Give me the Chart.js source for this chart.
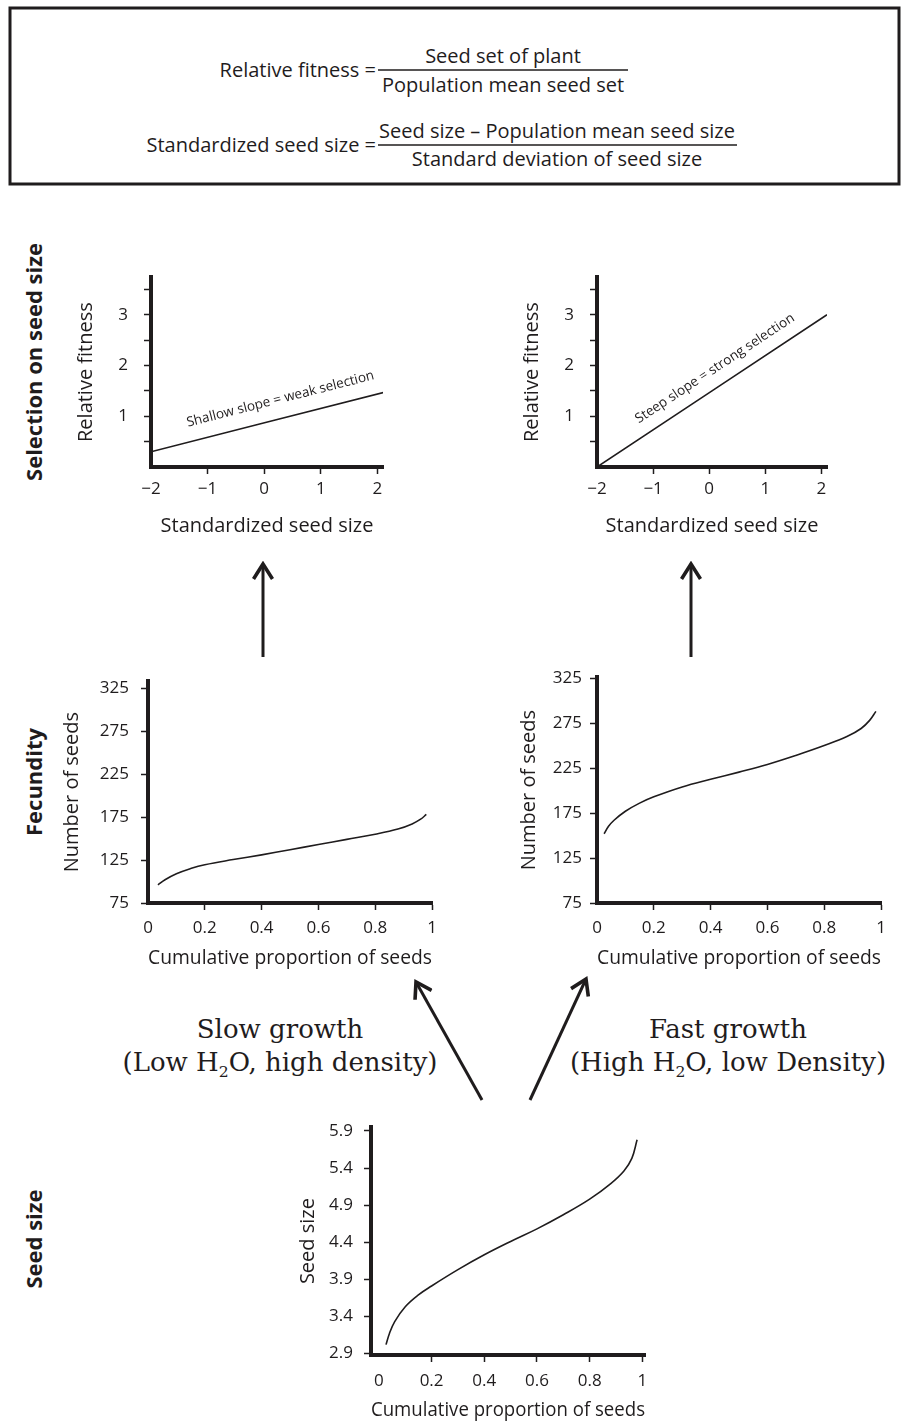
<!DOCTYPE html>
<html>
<head>
<meta charset="utf-8">
<title>Seed size, fecundity and selection</title>
<script src="https://cdn.jsdelivr.net/npm/chart.js@4.4.1/dist/chart.umd.min.js"></script>
<style>
  body { margin: 0; background: #fff; }
  #page { position: relative; width: 909px; height: 1424px; overflow: hidden;
          font-family: "Open Sans", sans-serif; color: #1f1c1d; }
  #page canvas, .txt { position: absolute; }
  .txt { white-space: nowrap; line-height: 1.2; }
  .mid { transform: translate(-50%, -50%); }
  .right { transform: translate(-100%, -50%); }
  .eq { font-size: 20px; }
  .row { font-weight: 700; font-size: 22px; transform: translate(-50%, -50%) rotate(-90deg); }
  .growth { font-family: "DejaVu Serif", serif; font-size: 26px; transform: translate(-50%, -50%); }
  .growth sub { font-size: 60%; vertical-align: -0.35em; line-height: 0; }
</style>
</head>
<body>
<div id="page">
  <svg width="909" height="1424" style="position:absolute;left:0;top:0">
    <defs>
      <marker id="head" viewBox="0 0 20 22" refX="17" refY="11" markerWidth="20" markerHeight="22"
              markerUnits="userSpaceOnUse" orient="auto">
        <path d="M2,1.5 L17,11 L2,20.5" fill="none" stroke="#1f1c1d" stroke-width="3.6" stroke-linejoin="miter"/>
      </marker>
    </defs>
    <rect x="10" y="8" width="889" height="176" fill="none" stroke="#1f1c1d" stroke-width="3"/>
    <g stroke="#1f1c1d" stroke-width="1.5">
      <line x1="378" y1="70" x2="628" y2="70"/>
      <line x1="378" y1="145" x2="737" y2="145"/>
    </g>
    <g stroke="#1f1c1d" stroke-width="3" fill="none" marker-end="url(#head)">
      <path d="M263,657 L263,564"/>
      <path d="M691,657 L691,564"/>
      <path d="M482,1100 L416,982"/>
      <path d="M530,1100 L586,979"/>
    </g>
  </svg>

  <div class="txt right eq" style="left:376px;top:70px">Relative fitness =</div>
  <div class="txt mid eq" style="left:503px;top:56px">Seed set of plant</div>
  <div class="txt mid eq" style="left:503px;top:85px">Population mean seed set</div>
  <div class="txt right eq" style="left:376px;top:145px">Standardized seed size =</div>
  <div class="txt mid eq" style="left:557px;top:131px">Seed size – Population mean seed size</div>
  <div class="txt mid eq" style="left:557px;top:159px">Standard deviation of seed size</div>

  <div class="txt row" style="left:33px;top:362px">Selection on seed size</div>
  <div class="txt row" style="left:33px;top:782px">Fecundity</div>
  <div class="txt row" style="left:33px;top:1239px">Seed size</div>

  <div class="txt growth" style="left:280px;top:1030px">Slow growth</div>
  <div class="txt growth" style="left:280px;top:1063px">(Low H<sub>2</sub>O, high density)</div>
  <div class="txt growth" style="left:728px;top:1030px">Fast growth</div>
  <div class="txt growth" style="left:728px;top:1063px">(High H<sub>2</sub>O, low Density)</div>
</div>

<script>
// selection gradients: relative fitness against standardized seed size
const sizeTicks = [-2, -1, 0, 1, 2];
const fitnessTicks = [0.5, 1, 1.5, 2, 2.5, 3, 3.5];
const fitnessLabels = [1, 2, 3];
const weakSize = [-2, 2.15];
const weakFitness = [0.3, 1.48];
const strongSize = [-2, 2.1];
const strongFitness = [0, 3];

// fecundity curves: seeds per plant against cumulative proportion of seeds
const propTicks = [0, 0.2, 0.4, 0.6, 0.8, 1];
const seedCountTicks = [75, 125, 175, 225, 275, 325];
const slowProp = [0.035, 0.06, 0.1, 0.15, 0.2, 0.3, 0.4, 0.5, 0.6, 0.7, 0.8, 0.88, 0.93, 0.96, 0.98];
const slowSeeds = [96, 102, 109, 115, 119.5, 125.5, 131, 137, 143, 149, 155, 161, 167, 172.5, 178];
const fastProp = [0.025, 0.04, 0.06, 0.1, 0.15, 0.2, 0.3, 0.4, 0.5, 0.6, 0.7, 0.8, 0.88, 0.93, 0.96, 0.982];
const fastSeeds = [152, 160, 167, 177, 186, 193, 204, 212.5, 220.5, 229, 239, 250, 260, 269, 278, 288];

// seed size distribution
const seedSizeTicks = [2.9, 3.4, 3.9, 4.4, 4.9, 5.4, 5.9];
const sizeProp = [0.027, 0.04, 0.06, 0.1, 0.15, 0.2, 0.3, 0.4, 0.5, 0.6, 0.7, 0.8, 0.88, 0.93, 0.96, 0.98];
const seedSize = [3.02, 3.17, 3.33, 3.53, 3.69, 3.81, 4.03, 4.23, 4.41, 4.58, 4.77, 4.98, 5.19, 5.36, 5.53, 5.78];

const INK = '#1f1c1d';
const TICK_FONT = { family: "'Open Sans', sans-serif", size: 17 };
const TITLE_FONT = { family: "'Open Sans', sans-serif", size: 20 };

// writes a note along the straight selection line, just above it
const slopeLabel = {
  id: 'slopeLabel',
  afterDatasetsDraw(chart, args, opts) {
    if (!opts.text) return;
    const pts = chart.data.datasets[0].data;
    const a = pts[0], b = pts[pts.length - 1];
    const { x, y } = chart.scales;
    const x0 = x.getPixelForValue(a.x), y0 = y.getPixelForValue(a.y);
    const x1 = x.getPixelForValue(b.x), y1 = y.getPixelForValue(b.y);
    const t = (opts.at - a.x) / (b.x - a.x);
    const ctx = chart.ctx;
    ctx.save();
    ctx.translate(x0 + t * (x1 - x0), y0 + t * (y1 - y0));
    ctx.rotate(Math.atan2(y1 - y0, x1 - x0));
    ctx.font = "13.5px 'Open Sans', sans-serif";
    ctx.fillStyle = INK;
    ctx.textAlign = 'center';
    ctx.textBaseline = 'middle';
    ctx.fillText(opts.text, 0, -opts.gap);
    ctx.restore();
  }
};

const fmt = v => (v < 0 ? '\u2212' + Math.abs(v) : String(v));

function makePanel(p) {
  const cv = document.createElement('canvas');
  const left = p.yTitleX - 12, top = p.top - 14;
  const right = p.right + 16, bottom = p.xTitleY + 12;
  cv.width = right - left;
  cv.height = bottom - top;
  cv.style.left = left + 'px';
  cv.style.top = top + 'px';
  document.getElementById('page').appendChild(cv);

  new Chart(cv, {
    type: 'line',
    data: {
      datasets: [{
        data: p.xs.map((x, i) => ({ x, y: p.ys[i] })),
        borderColor: INK,
        borderWidth: 1.6,
        pointRadius: 0,
        tension: 0.4,
        fill: false
      }]
    },
    options: {
      responsive: false,
      animation: false,
      devicePixelRatio: 1,
      layout: { padding: { top: 14, right: 16, left: 0, bottom: 0 } },
      plugins: {
        legend: { display: false },
        tooltip: { enabled: false },
        slopeLabel: p.note || {}
      },
      scales: {
        x: {
          type: 'linear',
          min: p.xMin,
          max: p.xMax,
          afterBuildTicks: s => { s.ticks = p.xTicks.map(v => ({ value: v })); },
          afterFit: s => { s.height = bottom - p.bottom; },
          ticks: { color: INK, font: TICK_FONT, padding: p.xPad, maxRotation: 0, autoSkip: false, callback: fmt },
          grid: {
            drawOnChartArea: false, tickLength: 7, tickWidth: 1.5,
            tickColor: c => (c.tick && c.tick.value === p.xTicks[0] ? 'rgba(0,0,0,0)' : INK)
          },
          border: { display: true, color: INK, width: 4 },
          title: { display: true, text: p.xTitle, color: INK, font: TITLE_FONT, padding: 0 }
        },
        y: {
          type: 'linear',
          min: p.yMin,
          max: p.yMax,
          afterBuildTicks: s => { s.ticks = p.yTicks.map(v => ({ value: v })); },
          afterFit: s => { s.width = p.left - left; },
          ticks: {
            color: INK, font: TICK_FONT, padding: p.yPad, autoSkip: false,
            callback: v => (!p.yLabels || p.yLabels.includes(v) ? (p.yFixed ? v.toFixed(1) : fmt(v)) : '')
          },
          grid: { drawOnChartArea: false, tickLength: 7, tickWidth: 1.5, tickColor: INK },
          border: { display: true, color: INK, width: 4 },
          title: { display: true, text: p.yTitle, color: INK, font: TITLE_FONT, padding: 0 }
        }
      }
    },
    plugins: [slopeLabel]
  });
}

makePanel({
  xs: weakSize, ys: weakFitness, left: 151, right: 383, top: 265, bottom: 467,
  xMin: -2, xMax: 2.1, yMin: 0, yMax: 3.74, xTicks: sizeTicks, yTicks: fitnessTicks, yLabels: fitnessLabels,
  xTitle: 'Standardized seed size', yTitle: 'Relative fitness', yTitleX: 86, xTitleY: 526, xPad: 5, yPad: 16,
  note: { text: 'Shallow slope = weak selection', at: 0.37, gap: 19 }
});
makePanel({
  xs: strongSize, ys: strongFitness, left: 597, right: 827, top: 265, bottom: 467,
  xMin: -2, xMax: 2.1, yMin: 0, yMax: 3.74, xTicks: sizeTicks, yTicks: fitnessTicks, yLabels: fitnessLabels,
  xTitle: 'Standardized seed size', yTitle: 'Relative fitness', yTitleX: 532, xTitleY: 526, xPad: 5, yPad: 16,
  note: { text: 'Steep slope = strong selection', at: 0.27, gap: 17 }
});
makePanel({
  xs: slowProp, ys: slowSeeds, left: 148, right: 432, top: 673, bottom: 903,
  xMin: 0, xMax: 1, yMin: 75, yMax: 333, xTicks: propTicks, yTicks: seedCountTicks,
  xTitle: 'Cumulative proportion of seeds', yTitle: 'Number of seeds', yTitleX: 72, xTitleY: 958, xPad: 8, yPad: 12
});
makePanel({
  xs: fastProp, ys: fastSeeds, left: 597, right: 881, top: 673, bottom: 903,
  xMin: 0, xMax: 1, yMin: 75, yMax: 326, xTicks: propTicks, yTicks: seedCountTicks,
  xTitle: 'Cumulative proportion of seeds', yTitle: 'Number of seeds', yTitleX: 529, xTitleY: 958, xPad: 8, yPad: 8
});
makePanel({
  xs: sizeProp, ys: seedSize, left: 371, right: 645, top: 1120, bottom: 1355,
  xMin: -0.03, xMax: 1.01, yMin: 2.88, yMax: 5.95, xTicks: propTicks, yTicks: seedSizeTicks, yFixed: true,
  xTitle: 'Cumulative proportion of seeds', yTitle: 'Seed size', yTitleX: 308, xTitleY: 1410, xPad: 9, yPad: 11
});
</script>
</body>
</html>
